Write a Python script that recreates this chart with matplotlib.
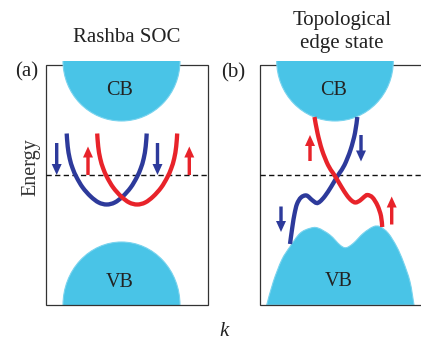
import numpy as np
import matplotlib
matplotlib.use("Agg")
import matplotlib.pyplot as plt
from matplotlib.path import Path
from matplotlib.patches import PathPatch, Ellipse, Rectangle, FancyArrow

plt.rcParams['font.family'] = ['Liberation Serif', 'DejaVu Serif']

# ---------------- data (schematic, pixel frame of the picture) ----------------
PANEL_X0 = [45.7, 260.0]
PANEL_X1 = [207.5, 424.0]
PANEL_TOP = 65.0
PANEL_BOTTOM = 305.0
FERMI_Y = 175.0

# conduction bands: half-ellipses hanging from the top edge
CB_CX = [121.5, 335.0]
CB_HALF_W = [58.5, 58.3]
CB_TOP = [61.0, 61.0]
CB_BOTTOM = [121.0, 121.0]

# valence band (a): half-ellipse standing on the bottom edge
VB_A_CX = 121.5
VB_A_HALF_W = 58.5
VB_A_TOP = 242.0
VB_A_BASE = 305.0

# valence band (b): two-hump outline
VB_B_X = [266.7, 273.3, 281.7, 290.0, 300.0, 310.0, 318.0, 330.0, 340.0, 346.0,
          353.3, 363.3, 373.3, 380.0, 388.3, 396.7, 403.3, 410.0, 414.0]
VB_B_Y = [305.0, 281.7, 260.0, 246.7, 233.3, 228.3, 228.0, 235.0, 245.0, 247.7,
          243.3, 233.3, 226.7, 226.7, 233.3, 246.7, 261.7, 281.7, 305.0]

# Rashba split bands (a): common U shape, shifted in k
RASHBA_CENTERS = [106.7, 137.2]
RASHBA_COLORS = ['blue', 'red']
RASHBA_BOTTOM = 204.5
RASHBA_DX = [-40, -39, -37, -34, -30, -24, -16, -8, 0, 8, 16, 24, 30, 34, 37, 39, 40]
RASHBA_DY = [71, 58, 46, 36, 27, 17, 8, 2, 0, 2, 8, 17, 27, 36, 46, 58, 71]

# topological edge states (b)
EDGE_BLUE_X = [357.3, 355.0, 350.5, 344.5, 339.5, 336.0, 331.0, 325.0, 320.0, 316.5,
               312.0, 306.5, 301.0, 297.0, 294.5, 292.5, 290.0]
EDGE_BLUE_Y = [117.0, 133.0, 150.0, 165.0, 173.0, 178.5, 187.0, 196.0, 201.5, 203.0,
               200.0, 195.5, 197.5, 204.0, 214.0, 226.0, 244.0]
EDGE_RED_X = [314.5, 317.5, 322.0, 328.0, 333.0, 336.5, 341.5, 347.0, 351.5, 355.5,
              360.0, 364.0, 367.5, 372.5, 377.5, 381.0, 382.2]
EDGE_RED_Y = [117.0, 133.0, 150.0, 165.0, 173.0, 178.5, 187.0, 195.5, 200.5, 202.5,
              200.5, 197.0, 195.0, 197.5, 205.5, 216.0, 227.0]

# spin arrows: x, tail y, tip y, colour key
ARROW_X = [56.7, 88.0, 157.5, 189.3, 310.0, 361.0, 281.0, 391.7]
ARROW_TAIL = [143.0, 175.0, 143.0, 175.0, 161.0, 135.0, 206.5, 224.5]
ARROW_TIP = [175.0, 146.5, 175.0, 146.5, 135.0, 161.5, 232.0, 196.5]
ARROW_COLOR = ['blue', 'red', 'blue', 'red', 'red', 'blue', 'blue', 'red']

COLORS = {'blue': '#2D3A9B', 'red': '#E8232A'}
BAND_COLOR = '#49C4E7'
BAND_EDGE = '#78D3EE'
BOX_COLOR = '#333333'


def smooth_path(xs, ys):
    P = np.column_stack([xs, ys]).astype(float)
    ext = np.vstack([P[0], P, P[-1]])
    verts = [P[0]]
    codes = [Path.MOVETO]
    for i in range(len(P) - 1):
        p0, p1, p2, p3 = ext[i], ext[i + 1], ext[i + 2], ext[i + 3]
        verts += [p1 + (p2 - p0) / 6.0, p2 - (p3 - p1) / 6.0, p2]
        codes += [Path.CURVE4] * 3
    return verts, codes


fig = plt.figure(figsize=(4.21, 3.41), dpi=100)
ax = fig.add_axes([0, 0, 1, 1])
ax.set_xlim(0, 421)
ax.set_ylim(341, 0)
ax.axis('off')

# panel frames
for x0, x1 in zip(PANEL_X0, PANEL_X1):
    ax.add_patch(Rectangle((x0, PANEL_TOP), x1 - x0, PANEL_BOTTOM - PANEL_TOP,
                           fill=False, edgecolor=BOX_COLOR, lw=0.9, zorder=1))
    ax.plot([x0, min(x1, 421)], [FERMI_Y, FERMI_Y], color='#111111', lw=1.0,
            dashes=(3.8, 2.4), zorder=1.5)

# conduction bands
for cx, hw, top, bot in zip(CB_CX, CB_HALF_W, CB_TOP, CB_BOTTOM):
    e = Ellipse((cx, top), 2 * hw, 2 * (bot - top), facecolor=BAND_COLOR,
                edgecolor=BAND_EDGE, lw=0.8, zorder=2)
    ax.add_patch(e)
    clip = Rectangle((cx - hw - 3, top), 2 * hw + 6, bot - top + 3,
                     transform=ax.transData)
    e.set_clip_path(clip)

# valence band (a)
e = Ellipse((VB_A_CX, VB_A_BASE), 2 * VB_A_HALF_W, 2 * (VB_A_BASE - VB_A_TOP),
            facecolor=BAND_COLOR, edgecolor=BAND_EDGE, lw=0.8, zorder=0.5)
ax.add_patch(e)
e.set_clip_path(Rectangle((VB_A_CX - VB_A_HALF_W - 3, VB_A_TOP - 3),
                          2 * VB_A_HALF_W + 6, VB_A_BASE - VB_A_TOP + 3,
                          transform=ax.transData))

# valence band (b)
v, c = smooth_path(VB_B_X, VB_B_Y)
v.append(v[0])
c.append(Path.CLOSEPOLY)
ax.add_patch(PathPatch(Path(v, c), facecolor=BAND_COLOR, edgecolor=BAND_EDGE,
                       lw=0.8, zorder=0.5))

# Rashba bands
for cx, col, z in zip(RASHBA_CENTERS, RASHBA_COLORS, [4, 5]):
    xs = [cx + d for d in RASHBA_DX]
    ys = [RASHBA_BOTTOM - d for d in RASHBA_DY]
    v, c = smooth_path(xs, ys)
    ax.add_patch(PathPatch(Path(v, c), fill=False, edgecolor=COLORS[col],
                           lw=3.1, capstyle='butt', zorder=z))

# edge states
for xs, ys, col, z in [(EDGE_BLUE_X, EDGE_BLUE_Y, 'blue', 4),
                       (EDGE_RED_X, EDGE_RED_Y, 'red', 5)]:
    v, c = smooth_path(xs, ys)
    ax.add_patch(PathPatch(Path(v, c), fill=False, edgecolor=COLORS[col],
                           lw=3.1, capstyle='butt', zorder=z))

# spin arrows
for x, yt, yh, col in zip(ARROW_X, ARROW_TAIL, ARROW_TIP, ARROW_COLOR):
    ax.add_patch(FancyArrow(x, yt, 0, yh - yt, width=3.4, head_width=10.0,
                            head_length=11.0, length_includes_head=True,
                            color=COLORS[col], lw=0, zorder=6))

# texts
tc = '#222222'
ax.text(126.7, 41.5, 'Rashba SOC', fontsize=15, ha='center', va='baseline', color=tc)
ax.text(341.7, 25.0, 'Topological', fontsize=15, ha='center', va='baseline', color=tc)
ax.text(341.7, 48.3, 'edge state', fontsize=15, ha='center', va='baseline', color=tc)
ax.text(26.7, 72.0, '(a)', fontsize=15, ha='center', va='center', color=tc)
ax.text(233.3, 72.5, '(b)', fontsize=15, ha='center', va='center', color=tc)
ax.text(35.0, 167.5, 'Energy', fontsize=14.5, rotation=90, rotation_mode='anchor',
        ha='center', va='baseline', color='#333333')
ax.text(120.0, 95.0, 'CB', fontsize=14.5, ha='center', va='baseline', color=tc, zorder=7)
ax.text(334.0, 95.0, 'CB', fontsize=14.5, ha='center', va='baseline', color=tc, zorder=7)
ax.text(119.5, 286.7, 'VB', fontsize=14.5, ha='center', va='baseline', color=tc, zorder=7)
ax.text(338.3, 285.7, 'VB', fontsize=14.5, ha='center', va='baseline', color=tc, zorder=7)
ax.text(224.3, 336.5, 'k', fontsize=15, style='italic', ha='center', va='baseline', color=tc)

fig.savefig('out.png', dpi=100)
